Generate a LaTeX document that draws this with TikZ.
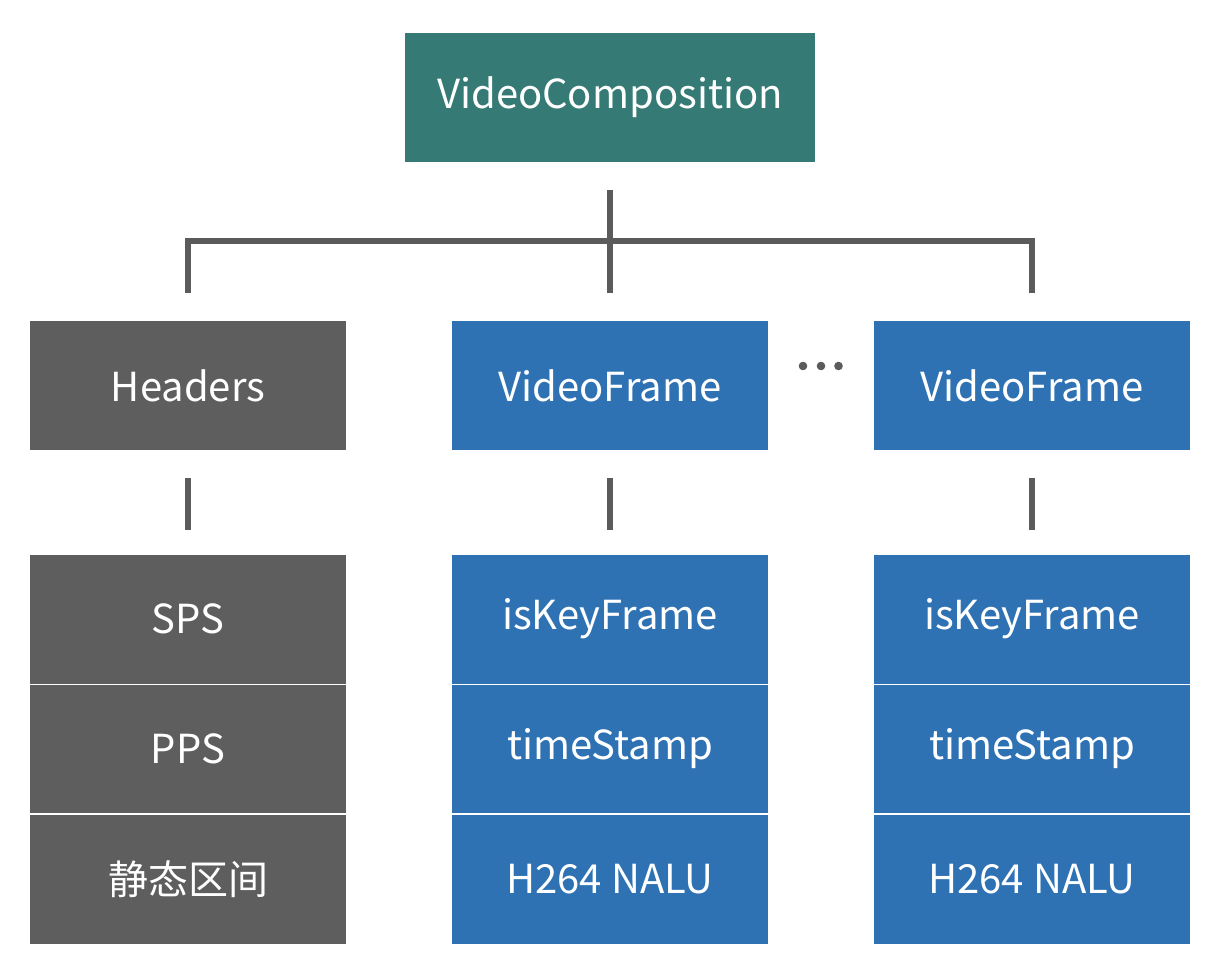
\documentclass[tikz,border=0pt]{standalone}
\usepackage{fontspec}
\setmainfont{Noto Sans CJK SC}
\begin{document}
\begin{tikzpicture}[x=1pt,y=-1pt,
  box/.style={minimum width=316pt,minimum height=129pt,inner sep=0pt,text=white,font=\fontsize{40}{44}\selectfont},
  teal/.style={box,fill=tealc,minimum width=410pt},
  grayb/.style={box,fill=grayc},
  blueb/.style={box,fill=bluec},
  conn/.style={draw=linec,line width=6pt}]
\definecolor{tealc}{HTML}{357A74}
\definecolor{grayc}{HTML}{5E5E5E}
\definecolor{bluec}{HTML}{2E72B4}
\definecolor{linec}{HTML}{5B5B5B}
\useasboundingbox[fill=white] (0,0) rectangle (1224,972);
\node[teal] (top) at (610,97.5) {VideoComposition};
\node[grayb] (hdr) at (188,385.5) {Headers};
\node[blueb] (vf1) at (610,385.5) {VideoFrame};
\node[blueb] (vf2) at (1032,385.5) {VideoFrame};
\node[grayb] (sps) at (188,619) {SPS};
\node[grayb,minimum height=128pt] (pps) at (188,749) {PPS};
\node[grayb] (st) at (188,879) {静态区间};
\node[blueb] (k1) at (610,619) {isKeyFrame};
\node[blueb,minimum height=128pt] (t1) at (610,749) {timeStamp};
\node[blueb] (n1) at (610,879) {H264 NALU};
\node[blueb] (k2) at (1032,619) {isKeyFrame};
\node[blueb,minimum height=128pt] (t2) at (1032,749) {timeStamp};
\node[blueb] (n2) at (1032,879) {H264 NALU};
% connectors
\draw[conn,shorten <=28pt,shorten >=28pt] (top.south) -- (vf1.north);
\draw[conn] ([yshift=28pt]hdr.north) |- ([yshift=80pt]vf2.north) -- ([yshift=28pt]vf2.north);
\draw[conn,shorten <=28pt,shorten >=24pt] (hdr.south) -- (sps.north);
\draw[conn,shorten <=28pt,shorten >=24pt] (vf1.south) -- (k1.north);
\draw[conn,shorten <=28pt,shorten >=24pt] (vf2.south) -- (k2.north);
% ellipsis
\fill[linec] (803,366) circle (4.3) (821,366) circle (4.3) (838.5,366) circle (4.3);
\end{tikzpicture}
\end{document}
